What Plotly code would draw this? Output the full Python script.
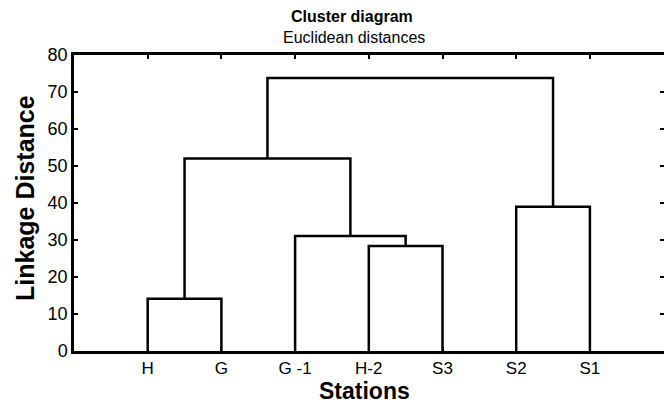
import plotly.graph_objects as go

# Data
leaves = ["H", "G", "G -1", "H-2", "S3", "S2", "S1"]
# merges: (left child, right child, linkage distance); children are leaf names or merge indices
merge_left = ["H", "H-2", "G -1", 0, "S2", 3]
merge_right = ["G", "S3", 1, 2, "S1", 4]
merge_height = [14.1, 28.4, 31.1, 52.0, 39.0, 73.8]
y_ticks = [0, 10, 20, 30, 40, 50, 60, 70, 80]

leaf_pos = {name: i + 1 for i, name in enumerate(leaves)}
node_pos = []
node_h = []

def info(c):
    if isinstance(c, str):
        return leaf_pos[c], 0.0
    return node_pos[c], node_h[c]

xs, ys = [], []
for l, r, h in zip(merge_left, merge_right, merge_height):
    xl, hl = info(l)
    xr, hr = info(r)
    xs += [xl, xl, xr, xr, None]
    ys += [hl, h, h, hr, None]
    node_pos.append((xl + xr) / 2)
    node_h.append(h)

FONT = "Liberation Sans, Arial, sans-serif"
fig = go.Figure()
fig.add_trace(go.Scatter(x=xs, y=ys, mode="lines",
                         line=dict(color="black", width=2.5),
                         hoverinfo="skip", showlegend=False))
fig.add_trace(go.Scatter(x=[1], y=[0], xaxis="x2", yaxis="y2", mode="markers",
                         marker=dict(opacity=0), hoverinfo="skip", showlegend=False))

W, H = 664, 405
L, T, B = 74, 55, 54
unit = 73.7
xmax = (W - L) / unit

fig.update_layout(
    width=W, height=H,
    margin=dict(l=L, r=0, t=T, b=B),
    plot_bgcolor="white", paper_bgcolor="white",
    font=dict(family=FONT, color="black"),
    xaxis=dict(range=[0, xmax], tickmode="array",
               tickvals=[leaf_pos[n] for n in leaves], ticktext=leaves,
               ticks="inside", ticklen=4, tickwidth=2, tickcolor="black",
               showline=True, linecolor="black", linewidth=2.5,
               showgrid=False, zeroline=False,
               tickfont=dict(size=17, family=FONT, color="black"),
               ticklabelstandoff=0),
    xaxis2=dict(range=[0, xmax], overlaying="x", side="top",
                tickmode="array", tickvals=list(range(1, 9)),
                showticklabels=False, ticks="inside", ticklen=4, tickwidth=2,
                tickcolor="black", showline=True, linecolor="black",
                linewidth=2.5, showgrid=False, zeroline=False),
    yaxis=dict(range=[0, 80], tickmode="array", tickvals=y_ticks,
               ticks="inside", ticklen=4, tickwidth=2, tickcolor="black",
               showline=True, linecolor="black", linewidth=2.5,
               showgrid=False, zeroline=False,
               tickfont=dict(size=18, family=FONT, color="black")),
    yaxis2=dict(range=[0, 80], overlaying="y", side="right",
                tickmode="array", tickvals=y_ticks, showticklabels=False,
                ticks="inside", ticklen=4, tickwidth=2, tickcolor="black",
                showline=False, showgrid=False, zeroline=False),
    annotations=[
        dict(text="<b>Cluster diagram</b>", x=352 / W, y=1 - 17 / H,
             xref="paper", yref="paper", showarrow=False,
             xanchor="center", yanchor="middle",
             font=dict(size=16, family=FONT, color="black")),
        dict(text="Euclidean distances", x=354 / W, y=1 - 37 / H,
             xref="paper", yref="paper", showarrow=False,
             xanchor="center", yanchor="middle",
             font=dict(size=16, family=FONT, color="black")),
        dict(text="<b>Stations</b>", x=365 / W, y=1 - 391 / H,
             xref="paper", yref="paper", showarrow=False,
             xanchor="center", yanchor="middle",
             font=dict(size=23, family=FONT, color="black")),
        dict(text="<b>Linkage Distance</b>", x=25 / W, y=1 - 198 / H,
             xref="paper", yref="paper", showarrow=False, textangle=-90,
             xanchor="center", yanchor="middle",
             font=dict(size=25, family=FONT, color="black")),
    ],
)
# convert paper coords relative to plot area
for a in fig.layout.annotations:
    px = a.x * W
    py = (1 - a.y) * H
    a.x = (px - L) / (W - L)
    a.y = 1 - (py - T) / (H - T - B)

fig.write_html("out.html")
